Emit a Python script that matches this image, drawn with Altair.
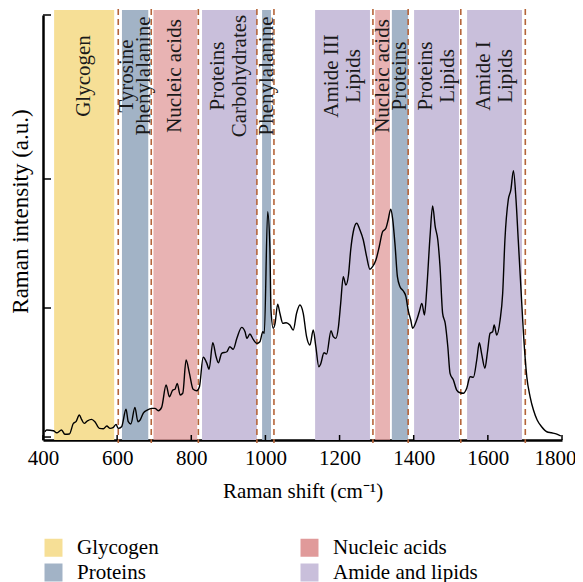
import altair as alt
import pandas as pd

# ---------------- data ----------------
shift = [405, 410, 428, 437, 450, 459, 471, 482, 489, 498, 504, 511, 520, 531, 540, 552, 563, 572,
         581, 590, 597, 603, 612, 624, 630, 637, 648, 656, 662, 671, 681, 693, 702, 711, 720, 732,
         741, 750, 756, 762, 770, 777, 786, 795, 805, 815, 822, 832, 842, 848, 858, 867, 873, 882,
         896, 904, 913, 923, 936, 945, 950, 958, 967, 977, 985, 993, 997, 1006, 1012, 1015, 1021,
         1026, 1033, 1039, 1047, 1056, 1066, 1075, 1084, 1093, 1102, 1111, 1120, 1129, 1136, 1144,
         1149, 1158, 1165, 1177, 1183, 1190, 1197, 1203, 1210, 1217, 1224, 1230, 1237, 1246, 1255,
         1264, 1273, 1282, 1289, 1298, 1307, 1316, 1325, 1331, 1338, 1343, 1350, 1356, 1363, 1372,
         1379, 1385, 1392, 1397, 1408, 1415, 1422, 1429, 1435, 1444, 1451, 1458, 1465, 1471, 1478,
         1485, 1492, 1498, 1507, 1516, 1525, 1534, 1543, 1552, 1561, 1570, 1577, 1583, 1592, 1599,
         1606, 1613, 1617, 1624, 1633, 1640, 1646, 1655, 1662, 1669, 1676, 1682, 1689, 1696, 1705,
         1714, 1723, 1733, 1745, 1759, 1772, 1786, 1797]
intensity = [0.041, 0.054, 0.049, 0.033, 0.054, 0.021, 0.023, 0.106, 0.119, 0.171, 0.137, 0.106,
             0.126, 0.137, 0.119, 0.067, 0.064, 0.085, 0.067, 0.075, 0.098, 0.067, 0.080, 0.215,
             0.119, 0.101, 0.230, 0.119, 0.132, 0.188, 0.209, 0.222, 0.222, 0.204, 0.230, 0.403,
             0.312, 0.364, 0.370, 0.416, 0.326, 0.339, 0.597, 0.494, 0.370, 0.359, 0.390, 0.618,
             0.571, 0.525, 0.731, 0.622, 0.576, 0.649, 0.661, 0.700, 0.680, 0.765, 0.850, 0.816,
             0.765, 0.798, 0.757, 0.726, 0.739, 0.816, 0.804, 1.747, 1.475, 0.984, 0.843, 0.881,
             1.029, 0.959, 0.881, 0.886, 0.868, 0.829, 0.959, 1.023, 0.959, 0.778, 0.713, 0.829,
             0.700, 0.545, 0.566, 0.653, 0.643, 0.824, 0.778, 0.765, 0.855, 1.036, 1.243, 1.178,
             1.256, 1.450, 1.591, 1.657, 1.605, 1.527, 1.398, 1.300, 1.320, 1.372, 1.475, 1.591,
             1.618, 1.682, 1.765, 1.695, 1.475, 1.243, 1.165, 1.132, 1.088, 0.984, 0.907, 0.843,
             0.907, 0.971, 1.036, 0.946, 1.140, 1.553, 1.791, 1.630, 1.527, 1.320, 0.959, 0.881,
             0.700, 0.494, 0.442, 0.364, 0.343, 0.339, 0.378, 0.467, 0.463, 0.597, 0.731, 0.649,
             0.533, 0.661, 0.804, 0.816, 0.868, 0.791, 0.907, 1.114, 1.527, 1.837, 1.915, 2.064,
             1.837, 1.527, 1.165, 0.804, 0.467, 0.312, 0.209, 0.132, 0.080, 0.041, 0.033, 0.023,
             0.008]

band_start = [430, 613, 698, 829, 991, 1134, 1296, 1341, 1401, 1544]
band_end = [592, 684, 816, 977, 1015, 1282, 1336, 1385, 1522, 1692]
band_group = ["Glycogen", "Proteins", "Nucleic acids", "Amide and lipids", "Proteins",
              "Amide and lipids", "Nucleic acids", "Proteins", "Amide and lipids", "Amide and lipids"]
band_label = ["Glycogen", "Tyrosine\nPhenylalanine", "Nucleic acids", "Proteins\nCarbohydrates",
              "Phenylalanine", "Amide III\nLipids", "Nucleic acids", "Proteins", "Proteins\nLipids",
              "Amide I\nLipids"]
dash_pos = [603, 692, 819, 977, 1023, 1290, 1385, 1527, 1701]

legend_order = ["Glycogen", "Proteins", "Nucleic acids", "Amide and lipids"]
legend_colors = ["#F6DF96", "#A2B3C6", "#E09A9A", "#C9BFDB"]

x_ticks = [400, 600, 800, 1000, 1200, 1400, 1600, 1800]
y_ticks = [0, 1, 2, 3.271]

FONT = "Liberation Serif"

# ---------------- tables ----------------
spec_df = pd.DataFrame({"shift": shift, "intensity": intensity})
band_df = pd.DataFrame({"start": band_start, "end": band_end, "group": band_group,
                        "label": band_label})
band_df["center"] = (band_df["start"] + band_df["end"]) / 2
band_df["nlines"] = band_df["label"].str.count("\n") + 1
band_df["width"] = band_df["end"] - band_df["start"]
dash_df = pd.DataFrame({"pos": dash_pos})
xt_df = pd.DataFrame({"v": x_ticks})
yt_df = pd.DataFrame({"v": y_ticks})

xs = alt.Scale(domain=[400, 1800], nice=False, zero=False)
ys = alt.Scale(domain=[-0.023, 3.271], nice=False, zero=False)
xtitle = "Raman shift (cm\u207b\u00b9)"
ytitle = "Raman intensity (a.u.)"
xaxis = alt.Axis(values=x_ticks, format="d", ticks=False, grid=False, domainColor="black",
                 domainWidth=2.5, labelFont=FONT, labelFontSize=21, labelColor="black",
                 labelPadding=7, titleFont=FONT, titleFontSize=21, titleFontWeight="normal",
                 titleColor="black", titlePadding=12, labelFlush=False,
                 labelOffset=alt.condition("datum.value == 1800", alt.value(-7), alt.value(0)))
yaxis = alt.Axis(labels=False, ticks=False, grid=False, domainColor="black", domainWidth=2.5,
                 titleFont=FONT, titleFontSize=23, titleFontWeight="normal", titleColor="black",
                 titlePadding=11, titleY=196)


def X(f):
    return alt.X(f, type="quantitative", scale=xs, axis=xaxis, title=xtitle)


def Y(f):
    return alt.Y(f, type="quantitative", scale=ys, axis=yaxis, title=ytitle)


bands = alt.Chart(band_df).mark_rect().encode(
    x=X("start"), x2="end",
    y=alt.value(-5), y2=alt.value(425),
    fill=alt.Fill("group:N", scale=alt.Scale(domain=legend_order, range=legend_colors),
                  legend=alt.Legend(title=None, orient="none", legendX=0, legendY=522,
                                    columns=2, symbolType="square", symbolSize=324,
                                    symbolStrokeWidth=0, labelFont=FONT, labelFontSize=21,
                                    labelColor="black", labelOffset=13, rowPadding=3,
                                    columnPadding=140, padding=0)),
    opacity=alt.condition(alt.datum.group == "Nucleic acids", alt.value(0.75), alt.value(1)),
)

dashes = alt.Chart(dash_df).mark_rule(color="#B5653A", strokeWidth=1.6,
                                      strokeDash=[6, 4]).encode(
    x=X("pos"), y=alt.value(-6), y2=alt.value(428))

line = alt.Chart(spec_df).mark_line(color="black", strokeWidth=1.4,
                                    interpolate="monotone").encode(
    x=X("shift"), y=Y("intensity"))

text_style = dict(font=FONT, fontSize=21, angle=270, align="center", baseline="middle",
                  lineBreak="\n", color="#1a1a1a")

labels_one = alt.Chart(band_df).transform_filter("datum.nlines == 1").mark_text(
    **text_style).encode(x=X("center"), y=alt.value(61), text="label")

labels_two = alt.Chart(band_df).transform_filter(
    "datum.nlines == 2 && datum.width > 90").mark_text(
    lineHeight=22, dy=-11, **text_style).encode(x=X("center"), y=alt.value(61), text="label")

labels_narrow = alt.Chart(band_df).transform_filter(
    "datum.nlines == 2 && datum.width <= 90").mark_text(
    lineHeight=17, dy=-8.5, **text_style).encode(x=X("center"), y=alt.value(61), text="label")

xticks = alt.Chart(xt_df).mark_rule(color="black", strokeWidth=1.5).encode(
    x=X("v"), y=alt.value(425), y2=alt.value(420))

yticks = alt.Chart(yt_df).mark_rule(color="black", strokeWidth=1.5).encode(
    y=Y("v"), x=alt.value(0), x2=alt.value(8))

chart = alt.layer(bands, dashes, line, labels_one, labels_two, labels_narrow,
                  xticks, yticks).properties(
    width=519, height=425,
    autosize=alt.AutoSizeParams(type="none"),
    padding={"left": 35, "top": 7, "right": 13, "bottom": 142},
).configure_view(stroke=None)

chart.save("out.html", embed_options={"renderer": "svg", "actions": False})
